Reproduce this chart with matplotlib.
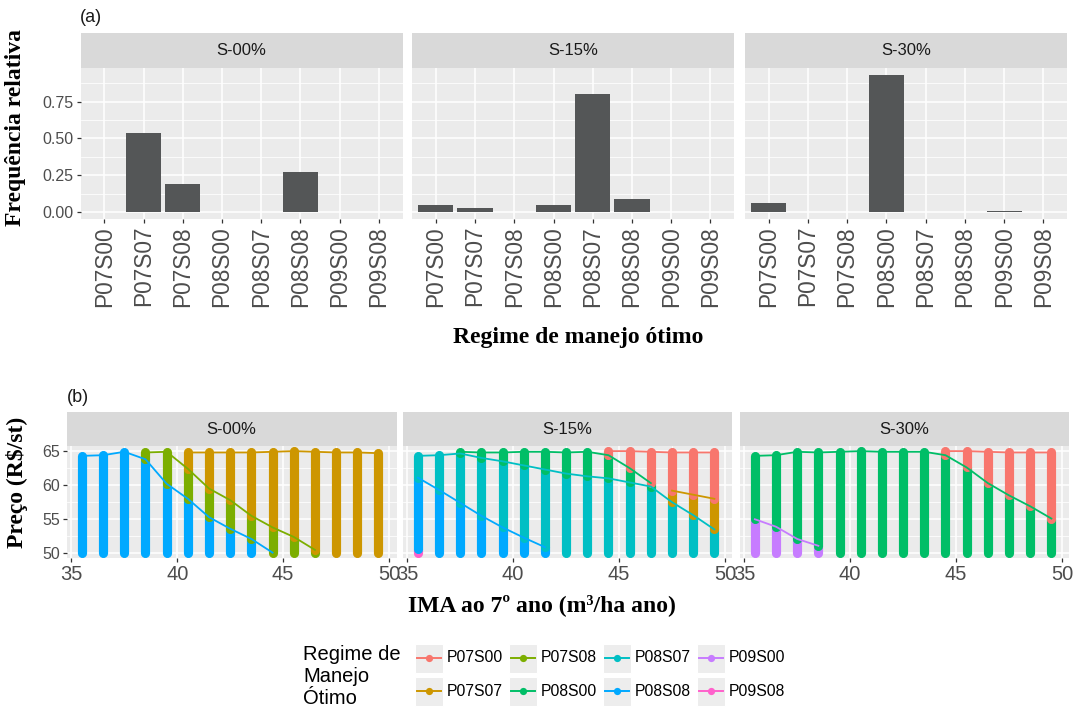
import numpy as np
import matplotlib
matplotlib.use("Agg")
import matplotlib.pyplot as plt
from matplotlib.patches import Rectangle
from matplotlib.lines import Line2D

nan = np.nan

# ---------------------------------------------------------------- data
regimes = ["P07S00", "P07S07", "P07S08", "P08S00", "P08S07", "P08S08", "P09S00", "P09S08"]
regime_colors = ["#F8766D", "#CD9600", "#7CAE00", "#00BE67", "#00BFC4", "#00A9FF", "#C77CFF", "#FF61CC"]
scenarios = ["S-00%", "S-15%", "S-30%"]

# (a) relative frequency of the optimal management regime
freq_s00 = [0.0, 0.54, 0.19, 0.0, 0.0, 0.27, 0.0, 0.0]
freq_s15 = [0.05, 0.025, 0.0, 0.05, 0.80, 0.09, 0.0, 0.0]
freq_s30 = [0.06, 0.0, 0.0, 0.93, 0.0, 0.0, 0.01, 0.0]

# (b) IMA classes and, for each regime, the highest wood price (R$/st)
# at which that regime is the optimal one
ima = [35.5, 36.5, 37.5, 38.5, 39.5, 40.5, 41.5, 42.5, 43.5, 44.5, 45.5, 46.5, 47.5, 48.5, 49.5]
price_floor = 50.0

s00_p07s07 = [nan, nan, nan, nan, nan, 64.8, 64.8, 64.8, 64.8, 64.9, 65.0, 64.9, 64.8, 64.8, 64.7]
s00_p07s08 = [nan, nan, nan, 64.8, 64.9, 62.4, 59.5, 57.8, 55.5, 53.8, 52.4, 50.5, nan, nan, nan]
s00_p08s08 = [64.3, 64.4, 64.9, 63.8, 60.2, 58.0, 55.3, 53.6, 52.1, 50.1, nan, nan, nan, nan, nan]

s15_p07s00 = [nan, nan, nan, nan, nan, nan, nan, nan, nan, 65.0, 65.0, 64.9, 64.8, 64.8, 64.8]
s15_p07s07 = [nan, nan, nan, nan, nan, nan, nan, nan, nan, nan, nan, nan, 59.2, 58.6, 58.0]
s15_p08s00 = [nan, nan, 64.9, 64.8, 64.8, 64.9, 64.9, 64.8, 64.9, 64.4, 62.5, 60.3, nan, nan, nan]
s15_p08s07 = [64.3, 64.4, 64.65, 64.0, 63.5, 62.9, 62.3, 61.7, 61.3, 61.0, 60.4, 59.8, 57.5, 55.6, 53.5]
s15_p08s08 = [61.1, 59.3, 57.4, 55.5, 53.8, 52.3, 50.9, nan, nan, nan, nan, nan, nan, nan, nan]
s15_p09s08 = [50.6, nan, nan, nan, nan, nan, nan, nan, nan, nan, nan, nan, nan, nan, nan]

s30_p07s00 = [nan, nan, nan, nan, nan, nan, nan, nan, nan, 65.0, 65.0, 64.9, 64.8, 64.8, 64.8]
s30_p08s00 = [64.3, 64.4, 64.9, 64.8, 64.9, 65.0, 64.9, 64.9, 64.9, 64.4, 62.6, 60.3, 58.5, 56.9, 55.1]
s30_p09s00 = [55.0, 53.9, 52.1, 51.1, nan, nan, nan, nan, nan, nan, nan, nan, nan, nan, nan]

freq_by_scenario = [freq_s00, freq_s15, freq_s30]
bounds_by_scenario = [
    {"P07S07": s00_p07s07, "P07S08": s00_p07s08, "P08S08": s00_p08s08},
    {"P07S00": s15_p07s00, "P07S07": s15_p07s07, "P08S00": s15_p08s00,
     "P08S07": s15_p08s07, "P08S08": s15_p08s08, "P09S08": s15_p09s08},
    {"P07S00": s30_p07s00, "P08S00": s30_p08s00, "P09S00": s30_p09s00},
]
color_of = dict(zip(regimes, regime_colors))

# ---------------------------------------------------------------- style
W, H = 1081, 709
SANS = "Liberation Sans"
SERIF = "Liberation Serif"
PANEL_BG = "#EBEBEB"
STRIP_BG = "#D9D9D9"
TICK_TXT = "#4D4D4D"
plt.rcParams["font.family"] = [SANS, "DejaVu Sans"]

fig = plt.figure(figsize=(W / 100, H / 100), dpi=100)


def rect(x0, y0, x1, y1):
    return [x0 / W, 1 - y1 / H, (x1 - x0) / W, (y1 - y0) / H]


def style_panel(ax):
    ax.set_facecolor(PANEL_BG)
    for s in ax.spines.values():
        s.set_visible(False)
    ax.set_axisbelow(True)
    ax.grid(which="major", color="white", lw=1.1)
    ax.grid(which="minor", color="white", lw=0.55)
    ax.tick_params(which="major", length=3.0, width=0.9, color="#333333",
                   labelcolor=TICK_TXT, labelsize=11.5, pad=2)
    ax.tick_params(which="minor", length=0)


def strip(x0, x1, y0, y1, label):
    hx = fig.add_axes(rect(x0, y0, x1, y1))
    hx.set_facecolor(STRIP_BG)
    hx.set_xticks([])
    hx.set_yticks([])
    for s in hx.spines.values():
        s.set_visible(False)
    hx.text(0.5, 0.5, label, ha="center", va="center", fontsize=12,
            color="#1A1A1A", transform=hx.transAxes)


# ---------------------------------------------------------------- (a)
a_cols = [(80.8, 402.5), (412.3, 734.0), (745.0, 1067.0)]
cat_pos = np.arange(len(regimes))
for k, (x0, x1) in enumerate(a_cols):
    strip(x0, x1, 33, 68, scenarios[k])
    ax = fig.add_axes(rect(x0, 68, x1, 219))
    style_panel(ax)
    vals = np.array(freq_by_scenario[k])
    keep = vals > 0
    ax.bar(cat_pos[keep], vals[keep], width=0.9, color="#545657", zorder=2)
    ax.set_xlim(-0.6, len(regimes) - 0.4)
    ax.set_ylim(-0.0466, 0.978)
    ax.set_xticks(cat_pos)
    ax.set_xticklabels(regimes, rotation=90, fontsize=16.3)
    ax.set_yticks([0, 0.25, 0.5, 0.75])
    ax.set_yticks([0.125, 0.375, 0.625, 0.875], minor=True)
    ax.xaxis.grid(False, which="minor")
    if k == 0:
        ax.set_yticklabels(["0.00", "0.25", "0.50", "0.75"])
    else:
        ax.tick_params(axis="y", which="both", length=0, labelleft=False)

# ---------------------------------------------------------------- (b)
b_cols = [(66.7, 396.5), (402.6, 732.4), (739.6, 1069.4)]
for k, (x0, x1) in enumerate(b_cols):
    strip(x0, x1, 412, 446, scenarios[k])
    ax = fig.add_axes(rect(x0, 446, x1, 558.4))
    style_panel(ax)
    bounds = bounds_by_scenario[k]
    # vertical bands of price points, coloured by the optimal regime
    for i, x in enumerate(ima):
        tops = sorted((v[i], name) for name, v in bounds.items() if not np.isnan(v[i]))
        lo = price_floor
        for hi, name in tops:
            ax.plot([x, x], [lo, hi], color=color_of[name], lw=6.6,
                    solid_capstyle="round", zorder=2)
            lo = hi
    # upper price limit of each regime
    for name in regimes:
        if name in bounds:
            ax.plot(ima, bounds[name], color=color_of[name], lw=1.3, zorder=3)
    ax.set_xlim(34.78, 50.35)
    ax.set_ylim(49.25, 65.75)
    ax.set_xticks([35, 40, 45, 50])
    ax.set_xticks([37.5, 42.5, 47.5], minor=True)
    ax.set_yticks([50, 55, 60, 65])
    ax.set_yticks([52.5, 57.5, 62.5], minor=True)
    ax.tick_params(axis="x", labelsize=14.5)
    if k != 0:
        ax.tick_params(axis="y", which="both", length=0, labelleft=False)

# ---------------------------------------------------------------- labels & legend
ov = fig.add_axes([0, 0, 1, 1], facecolor="none")
ov.set_xlim(0, W)
ov.set_ylim(H, 0)
ov.axis("off")

ov.text(80, 18, "(a)", fontsize=13, ha="left", va="center", color="#1A1A1A")
ov.text(67, 398, "(b)", fontsize=13, ha="left", va="center", color="#1A1A1A")

lab_kw = dict(family=SERIF, fontweight="bold", fontsize=17, color="black")
ov.text(16, 128, "Frequência relativa", rotation=90, ha="center", va="center", **lab_kw)
ov.text(578, 338, "Regime de manejo ótimo", ha="center", va="center", **lab_kw)
ov.text(17, 482, "Preço (R$/st)", rotation=90, ha="center", va="center", **lab_kw)
ov.text(542, 605, "IMA ao 7º ano (m³/ha ano)", ha="center", va="center", **lab_kw)

for line, ty in zip(["Regime de", "Manejo", "Ótimo"], [655, 677, 699]):
    ov.text(303, ty, line, ha="left", va="center", fontsize=14.5, color="black")

key_x = [415, 509, 603, 697]
row_y = [658, 691]
for n, name in enumerate(regimes):
    cx, cy = key_x[n // 2], row_y[n % 2]
    ov.add_patch(Rectangle((cx, cy - 14.5), 27.5, 29, facecolor="#EDEDED",
                           edgecolor="white", lw=0.8))
    ov.add_line(Line2D([cx + 2, cx + 25.5], [cy, cy], color=color_of[name], lw=1.4))
    ov.plot([cx + 13.75], [cy], marker="o", ms=5.2, color=color_of[name],
            markeredgewidth=0)
    ov.text(cx + 32, cy, name, ha="left", va="center", fontsize=11.3, color="black")

fig.savefig("out.png", dpi=100)
